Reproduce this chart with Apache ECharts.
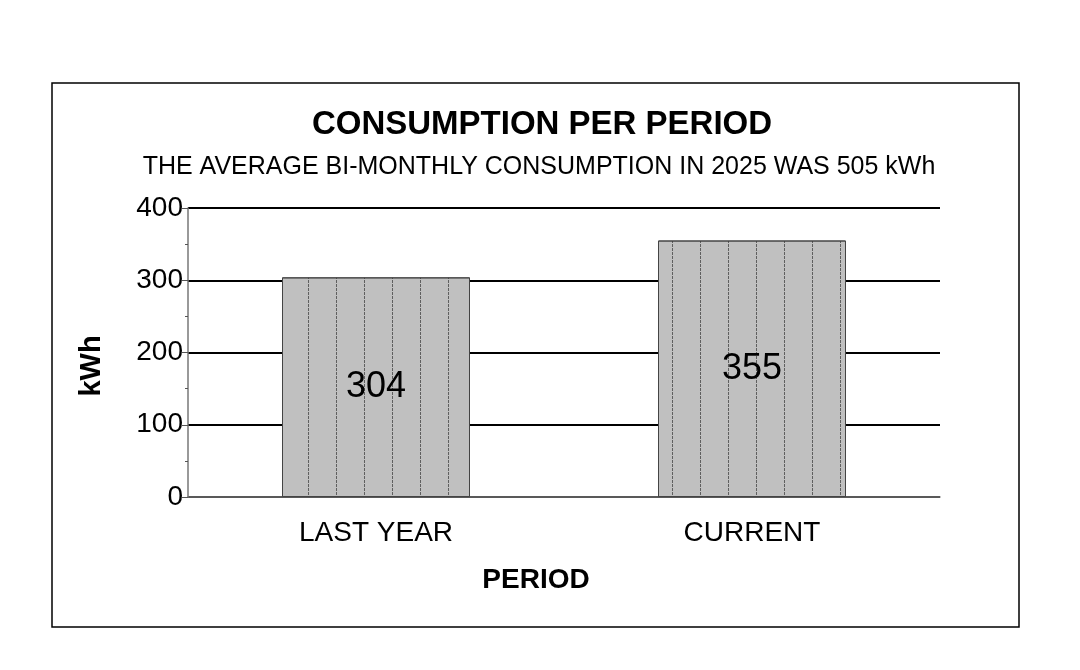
<!DOCTYPE html>
<html>
<head>
<meta charset="utf-8">
<script src="https://cdn.jsdelivr.net/npm/echarts@6/dist/echarts.min.js"></script>
<style>
  html, body { margin: 0; padding: 0; background: #fff; }
  #chart { width: 1080px; height: 670px; }
</style>
</head>
<body>
<div id="chart"></div>
<script>
// data
var periods = ['LAST YEAR', 'CURRENT'];
var consumption = [304, 355];
var yTicks = [0, 100, 200, 300, 400];

var chart = echarts.init(document.getElementById('chart'));
var font = 'Liberation Sans, Arial, sans-serif';

var option = {
    animation: false,
    backgroundColor: '#fff',
    graphic: [{
        type: 'rect',
        shape: { x: 52, y: 83, width: 967, height: 544 },
        style: { fill: 'none', stroke: '#000', lineWidth: 1.5 },
        silent: true
    }, {
        // axis names are placed off the plot's middle in the original
        type: 'text',
        x: 92, y: 366,
        rotation: Math.PI / 2,
        style: {
            text: 'kWh', fill: '#000',
            font: 'bold 29px ' + font,
            textAlign: 'center', textVerticalAlign: 'middle'
        },
        silent: true
    }, {
        type: 'text',
        x: 536, y: 580,
        style: {
            text: 'PERIOD', fill: '#000',
            font: 'bold 28px ' + font,
            textAlign: 'center', textVerticalAlign: 'middle'
        },
        silent: true
    }],
    title: [{
        text: 'CONSUMPTION PER PERIOD',
        left: 537, top: 103, textAlign: 'center',
        textStyle: { fontFamily: font, fontSize: 33, fontWeight: 'bold', color: '#000' }
    }, {
        text: 'THE AVERAGE BI-MONTHLY CONSUMPTION IN 2025 WAS 505 kWh',
        left: 534, top: 150, textAlign: 'center',
        textStyle: { fontFamily: font, fontSize: 25, fontWeight: 'normal', color: '#000' }
    }],
    grid: { left: 188, right: 140, top: 208, bottom: 173, containLabel: false },
    xAxis: {
        type: 'category',
        data: periods,
        axisLine: { lineStyle: { color: '#777', width: 1.5 } },
        axisTick: { show: false },
        axisLabel: { fontFamily: font, fontSize: 28, color: '#000', margin: 22 }
    },
    yAxis: {
        type: 'value',
        min: 0, max: 400, interval: 100,
        axisLine: { show: true, lineStyle: { color: '#777', width: 1.5 } },
        axisTick: { show: true, length: 6, lineStyle: { color: '#555' } },
        minorTick: { show: true, splitNumber: 2, length: 3, lineStyle: { color: '#555' } },
        axisLabel: {
            fontFamily: font, fontSize: 28, color: '#000', margin: 5,
            formatter: function (v) { return yTicks.indexOf(v) >= 0 ? String(v) : ''; }
        },
        splitLine: { show: true, lineStyle: { color: '#000', width: 2 } }
    },
    series: [{
        type: 'bar',
        data: consumption,
        barWidth: '50%',
        z: 3,
        itemStyle: {
            color: '#c0c0c0',
            borderColor: '#444',
            borderWidth: 1,
            decal: {
                symbol: 'rect',
                symbolSize: 1,
                dashArrayX: [1, 27],
                dashArrayY: [3, 1],
                rotation: 0,
                color: 'rgba(30,30,30,0.6)'
            }
        },
        label: {
            show: true,
            position: 'inside',
            fontFamily: font,
            fontSize: 36,
            color: '#000'
        }
    }]
};
chart.setOption(option);
</script>
</body>
</html>
